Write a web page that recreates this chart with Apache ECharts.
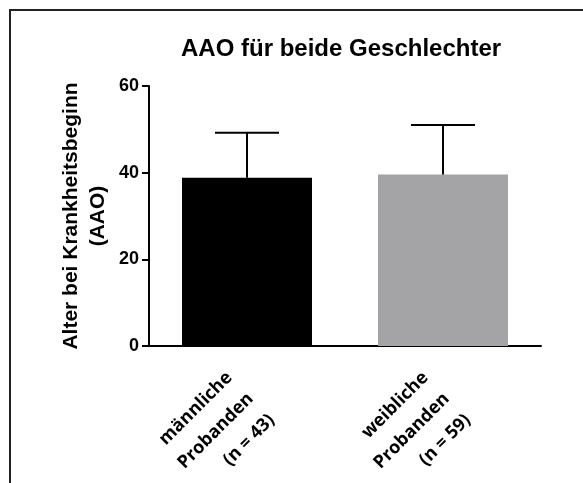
<!DOCTYPE html>
<html>
<head>
<meta charset="utf-8">
<script src="https://cdn.jsdelivr.net/npm/echarts@6/dist/echarts.min.js"></script>
<style>
html,body{margin:0;padding:0;background:#fff;}
#chart{width:583px;height:483px;}
</style>
</head>
<body>
<div id="chart"></div>
<script>
var categories = ["männliche\nProbanden\n(n = 43)", "weibliche\nProbanden\n(n = 59)"];
var means = [38.8, 39.6];
var upperErr = [49.2, 51.0];
var barColors = ["#000000", "#a4a4a7"];
var yTicks = [0, 20, 40, 60];

var chart = echarts.init(document.getElementById('chart'));
var option = {
  animation: false,
  backgroundColor: '#ffffff',
  title: {
    text: 'AAO für beide Geschlechter',
    left: 176,
    top: 32,
    textStyle: { fontFamily: 'Liberation Sans', fontWeight: 'bold', fontSize: 24, color: '#000' }
  },
  graphic: [{
    type: 'rect',
    shape: { x: 10, y: 10, width: 620, height: 520 },
    style: { fill: 'none', stroke: '#222', lineWidth: 2 },
    silent: true
  }],
  grid: { left: 149, right: 42, top: 86, bottom: 137, containLabel: false, outerBoundsMode: 'none' },
  xAxis: {
    type: 'category',
    data: categories,
    axisLine: { lineStyle: { color: '#000', width: 2 } },
    axisTick: { alignWithLabel: true, length: 8, lineStyle: { color: '#000', width: 2 } },
    axisLabel: {
      rotate: 45,
      align: 'right',
      verticalAlign: 'top',
      margin: -10,
      padding: [0, 40, 0, 0],
      lineHeight: 30,
      fontFamily: 'Open Sans',
      fontWeight: 'bold',
      fontSize: 18,
      color: '#000',
      interval: 0
    }
  },
  yAxis: {
    type: 'value',
    min: yTicks[0],
    max: yTicks[yTicks.length - 1],
    interval: 20,
    name: 'Alter bei Krankheitsbeginn\n(AAO)',
    nameLocation: 'middle',
    nameRotate: 90,
    nameGap: 37,
    nameMoveOverlap: false,
    nameTextStyle: { fontFamily: 'Liberation Sans', fontWeight: 'bold', fontSize: 21, lineHeight: 27, color: '#000' },
    axisLine: { show: true, lineStyle: { color: '#000', width: 2 } },
    axisTick: { show: true, length: 7, lineStyle: { color: '#000', width: 2 } },
    splitLine: { show: false },
    axisLabel: {
      margin: 10,
      fontFamily: 'Liberation Sans',
      fontWeight: 'bold',
      fontSize: 18,
      color: '#000'
    }
  },
  series: [
    {
      type: 'bar',
      barWidth: 130,
      data: means.map(function (v, i) { return { value: v, itemStyle: { color: barColors[i] } }; }),
      z: 2
    },
    {
      type: 'custom',
      z: 3,
      data: means.map(function (v, i) { return [i, v, upperErr[i]]; }),
      renderItem: function (params, api) {
        var base = api.coord([api.value(0), api.value(1)]);
        var top = api.coord([api.value(0), api.value(2)]);
        var half = 32;
        return {
          type: 'group',
          children: [
            { type: 'line', shape: { x1: base[0], y1: base[1], x2: top[0], y2: top[1] }, style: { stroke: '#000', lineWidth: 2 } },
            { type: 'line', shape: { x1: top[0] - half, y1: top[1], x2: top[0] + half, y2: top[1] }, style: { stroke: '#000', lineWidth: 2 } }
          ]
        };
      }
    }
  ]
};
chart.setOption(option);
</script>
</body>
</html>
